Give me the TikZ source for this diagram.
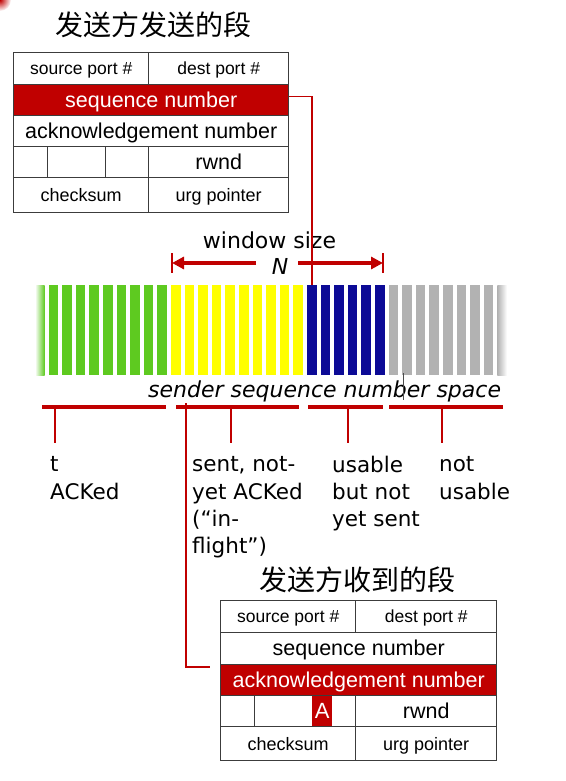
\documentclass[tikz,border=0pt]{standalone}
\usepackage{fontspec}
\setmainfont{DejaVu Sans}
\newfontfamily\arialf{Liberation Sans}
\newfontfamily\cjk{Noto Sans CJK SC}
\usetikzlibrary{arrows.meta}
\definecolor{tred}{RGB}{192,0,0}
\definecolor{cellgray}{RGB}{60,60,60}
\definecolor{bgreen}{RGB}{94,202,32}
\definecolor{byellow}{RGB}{255,255,0}
\definecolor{bblue}{RGB}{12,10,150}
\definecolor{bgray}{RGB}{178,178,178}
\begin{document}
\begin{tikzpicture}[x=1pt,y=-1pt,
  cell/.style={draw=cellgray, line width=1.4pt, inner sep=0pt, anchor=north west,
    text height=13pt, text depth=0pt,
    font=\arialf\fontsize{18}{20}\selectfont},
  smallf/.style={font=\arialf\fontsize{17.5}{20}\selectfont, text height=12.5pt},
  bigf/.style={font=\arialf\fontsize{21.5}{24}\selectfont, text height=14.5pt},
  redcell/.style={cell, fill=tred, text=white},
  lbl/.style={font=\fontsize{21.5}{27.2}\selectfont, align=left, anchor=north west, inner sep=0pt},
  redline/.style={draw=tred, line width=1.3pt},
  bracebar/.style={draw=tred, line width=3.5pt},
  tickline/.style={draw=tred, line width=1.8pt},
  title/.style={font=\cjk\fontsize{28}{30}\selectfont, inner sep=0pt}
]
\useasboundingbox (0,0) rectangle (565,781);
% corner blob
\shade[inner color=tred, outer color=white] (0,0) circle (11);

% ---------- top segment ----------
\node[title] (ttitle) at (153,25) {发送方发送的段};
\node[cell, smallf, minimum width=135pt, minimum height=32pt] (tsrc) at (13,52) {source port \#};
\node[cell, smallf, minimum width=140pt, minimum height=32pt] (tdst) at (148,52) {dest port \#};
\node[redcell, bigf, minimum width=275pt, minimum height=31pt] (tseq) at (13,84) {sequence number};
\node[cell, bigf, minimum width=275pt, minimum height=31pt] (tack) at (13,115) {acknowledgement number};
\node[cell, minimum width=34pt, minimum height=31pt] (tf1) at (13,146) {};
\node[cell, minimum width=58pt, minimum height=31pt] (tf2) at (47,146) {};
\node[cell, minimum width=43pt, minimum height=31pt] (tf3) at (105,146) {};
\node[cell, bigf, minimum width=140pt, minimum height=31pt] (trw) at (148,146) {rwnd};
\node[cell, minimum width=135pt, minimum height=35pt] (tcs) at (13,177) {checksum};
\node[cell, minimum width=140pt, minimum height=35pt] (turg) at (148,177) {urg pointer};

% ---------- window ----------
\node[font=\fontsize{22}{24}\selectfont, anchor=base, inner sep=0pt] (ws) at (269.5,248) {window size};
\node[font=\itshape\fontsize{22}{24}\selectfont, anchor=base, inner sep=0pt] (wn) at (280,274) {N};
\coordinate (wl) at (172,263);
\coordinate (wr) at (383,263);
\coordinate (wlm) at (256,263);
\coordinate (wrm) at (298,263);
\draw[tred, line width=1.6pt] ([yshift=10pt]wl) -- ([yshift=-10pt]wl);
\draw[tred, line width=1.6pt] ([yshift=10pt]wr) -- ([yshift=-10pt]wr);
\draw[bracebar, -{Triangle[length=12pt,width=12pt]}] (wlm) -- (wl);
\draw[bracebar, -{Triangle[length=12pt,width=12pt]}] (wrm) -- (wr);

% bars
\shade[left color=white, right color=bgreen] (35,285) rectangle ++(9.5,90);
\foreach \i in {1,...,9} \fill[bgreen] ({35+13.6*\i},285) rectangle ++(9.5,90);
\foreach \i in {10,...,19} \fill[byellow] ({35+13.6*\i},285) rectangle ++(9.5,90);
\foreach \i in {20,...,25} \fill[bblue] ({35+13.6*\i},285) rectangle ++(9.5,90);
\foreach \i in {26,...,33} \fill[bgray] ({35+13.6*\i},285) rectangle ++(9.5,90);
\shade[left color=bgray, right color=white] ({35+13.6*34},285) rectangle ++(9.5,90);
\coordinate (seqbar) at (312,285);
\draw[redline] ([yshift=3.5pt]tseq.east) -| (seqbar);

\node[font=\itshape\fontsize{22}{24}\selectfont, anchor=base west, inner sep=0pt] (space) at (148,397) {sender sequence number space};
\draw[black!70, line width=0.8pt] (403,373) -- (403,400);

% braces
\coordinate (b1a) at (42,407);  \coordinate (b1b) at (166,407);
\coordinate (b2a) at (176,407); \coordinate (b2b) at (299,407);
\coordinate (b3a) at (308,407); \coordinate (b3b) at (383,407);
\coordinate (b4a) at (389,407); \coordinate (b4b) at (503,407);
\draw[bracebar] (b1a) -- (b1b);
\draw[bracebar] (b2a) -- (b2b);
\draw[bracebar] (b3a) -- (b3b);
\draw[bracebar] (b4a) -- (b4b);
\coordinate (t1a) at (55,407);  \coordinate (t1b) at (55,443);
\coordinate (t2a) at (231,407); \coordinate (t2b) at (231,443);
\coordinate (t3a) at (348,407); \coordinate (t3b) at (348,443);
\coordinate (t4a) at (442,407); \coordinate (t4b) at (442,443);
\draw[tickline] (t1a) -- (t1b);
\draw[tickline] (t2a) -- (t2b);
\draw[tickline] (t3a) -- (t3b);
\draw[tickline] (t4a) -- (t4b);

\node[lbl] (lA) at (50,456.5) {t\\ACKed};
\node[lbl] (lB) at (192,456.5) {sent, not-\\yet ACKed\\(“in-\\flight”)};
\node[lbl] (lC) at (332,455.7) {usable\\but not\\yet sent};
\node[lbl] (lD) at (439,456.5) {not\\usable};

% ---------- bottom segment ----------
\node[title] (btitle) at (357,580) {发送方收到的段};
\node[cell, smallf, minimum width=135pt, minimum height=32pt] (bsrc) at (220,600) {source port \#};
\node[cell, smallf, minimum width=141pt, minimum height=32pt] (bdst) at (355,600) {dest port \#};
\node[cell, bigf, minimum width=276pt, minimum height=32pt] (bseq) at (220,632) {sequence number};
\node[redcell, bigf, minimum width=276pt, minimum height=31pt] (back) at (220,664) {acknowledgement number};
\node[cell, minimum width=34pt, minimum height=31pt] (bf1) at (220,695) {};
\node[cell, minimum width=58pt, minimum height=31pt] (bf2) at (254,695) {};
\node[cell, minimum width=43pt, minimum height=31pt] (bf3) at (312,695) {};
\node[cell, bigf, minimum width=141pt, minimum height=31pt] (brw) at (355,695) {rwnd};
\node[fill=tred, text=white, inner sep=0pt, anchor=north west, minimum width=20pt, minimum height=29.6pt,
  text height=15pt, text depth=0pt,
  font=\arialf\fontsize{22}{24}\selectfont] (bA) at (312,695.7) {A};
\node[cell, minimum width=135pt, minimum height=34pt] (bcs) at (220,726) {checksum};
\node[cell, minimum width=141pt, minimum height=34pt] (burg) at (355,726) {urg pointer};

\coordinate (ackfrom) at (186,403);
\coordinate (ackto) at (210,667);
\draw[redline] (ackfrom) |- (ackto);
\end{tikzpicture}
\end{document}
